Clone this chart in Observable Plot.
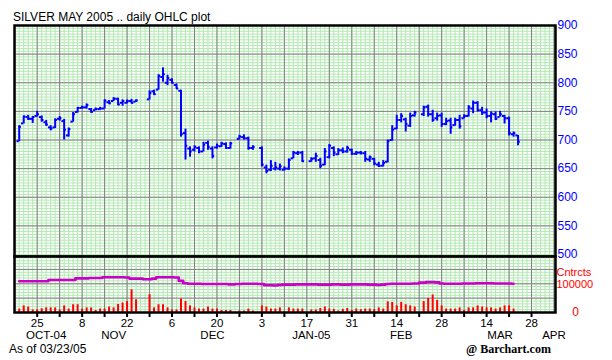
<!DOCTYPE html>
<html><head><meta charset="utf-8">
<script src="https://cdn.jsdelivr.net/npm/d3@7"></script>
<script src="https://cdn.jsdelivr.net/npm/@observablehq/plot@0.6"></script>
<style>
html,body{margin:0;padding:0;background:#fff;overflow:hidden;}
#chart{position:relative;width:612px;height:360px;font-family:"Liberation Sans",Arial,sans-serif;overflow:hidden;}
#chart svg{position:absolute;left:0;overflow:visible;}
.t{position:absolute;white-space:nowrap;font-size:12px;line-height:12px;color:#000;}
</style></head><body><div id="chart"></div>
<script>
// ---- data (trading days, one line per week) ----
const dates = [
 "2004-10-19","2004-10-20","2004-10-21","2004-10-22",
 "2004-10-25","2004-10-26","2004-10-27","2004-10-28","2004-10-29",
 "2004-11-01","2004-11-02","2004-11-03","2004-11-04","2004-11-05",
 "2004-11-08","2004-11-09","2004-11-10","2004-11-11","2004-11-12",
 "2004-11-15","2004-11-16","2004-11-17","2004-11-18","2004-11-19",
 "2004-11-22","2004-11-23","2004-11-24",
 "2004-11-29","2004-11-30","2004-12-01","2004-12-02","2004-12-03",
 "2004-12-06","2004-12-07","2004-12-08","2004-12-09","2004-12-10",
 "2004-12-13","2004-12-14","2004-12-15","2004-12-16","2004-12-17",
 "2004-12-20","2004-12-21","2004-12-22","2004-12-23",
 "2004-12-27","2004-12-28","2004-12-29","2004-12-30",
 "2005-01-03","2005-01-04","2005-01-05","2005-01-06","2005-01-07",
 "2005-01-10","2005-01-11","2005-01-12","2005-01-13","2005-01-14",
 "2005-01-18","2005-01-19","2005-01-20","2005-01-21",
 "2005-01-24","2005-01-25","2005-01-26","2005-01-27","2005-01-28",
 "2005-01-31","2005-02-01","2005-02-02","2005-02-03","2005-02-04",
 "2005-02-07","2005-02-08","2005-02-09","2005-02-10","2005-02-11",
 "2005-02-14","2005-02-15","2005-02-16","2005-02-17","2005-02-18",
 "2005-02-22","2005-02-23","2005-02-24","2005-02-25",
 "2005-02-28","2005-03-01","2005-03-02","2005-03-03","2005-03-04",
 "2005-03-07","2005-03-08","2005-03-09","2005-03-10","2005-03-11",
 "2005-03-14","2005-03-15","2005-03-16","2005-03-17","2005-03-18",
 "2005-03-21","2005-03-22","2005-03-23"
];
const open = [
 698,729,740,737,
 742,740,731,722,722,
 737,733,708,732,749,
 756,757,754,752,754,
 755,766,768,772,765,
 765,768,767,
 771,785,788,810,800,
 805,796,786,712,685,
 683,686,680,695,685,
 687,689,693,686,
 702,705,703,686,
 686,652,648,650,650,
 648,650,668,677,678,
 663,668,665,657,
 670,686,675,682,680,
 683,676,678,677,666,
 667,657,655,662,700,
 720,735,736,725,743,
 745,758,745,738,
 743,728,734,726,735,
 738,742,755,765,752,
 748,742,745,740,742,
 738,710,708
];
const high = [
 725,742,743,741,
 750,742,734,725,737,
 741,736,721,748,757,
 759,763,755,756,757,
 770,769,774,773,770,
 770,771,770,
 786,787,814,826,813,
 807,798,787,719,688,
 690,688,696,698,688,
 693,696,695,696,
 708,709,705,690,
 688,656,664,661,658,
 653,667,680,680,680,
 669,677,668,685,
 692,688,685,686,689,
 684,680,680,680,672,
 668,661,664,700,725,
 743,746,738,747,750,
 759,761,752,747,
 747,738,738,738,743,
 744,760,768,767,757,
 754,749,749,750,743,
 740,714,708
];
const low = [
 697,728,734,729,
 740,731,724,716,720,
 733,700,705,731,747,
 754,754,747,751,752,
 754,762,767,760,759,
 763,763,766,
 770,778,787,801,795,
 798,789,705,665,670,
 679,676,679,682,667,
 684,687,684,684,
 700,700,682,682,
 653,641,645,646,646,
 646,647,667,673,661,
 661,661,650,655,
 667,671,673,676,677,
 673,673,674,661,661,
 655,652,653,660,698,
 718,730,714,722,740,
 741,740,731,733,
 722,725,710,724,719,
 737,740,746,749,743,
 737,730,734,740,728,
 707,705,690
];
const close = [
 723,741,737,740,
 745,735,727,720,735,
 738,718,719,745,756,
 757,761,749,754,755,
 769,764,772,762,768,
 768,765,769,
 782,780,812,815,808,
 800,790,710,690,680,
 688,680,692,688,672,
 690,694,686,694,
 706,703,686,688,
 657,646,655,652,654,
 650,665,678,678,663,
 667,672,655,680,
 690,678,682,680,686,
 676,678,677,667,670,
 659,655,660,698,718,
 735,742,728,742,748,
 757,745,735,742,
 728,733,722,735,724,
 742,757,765,752,748,
 742,746,737,745,738,
 712,712,697
];
const volume = [
 12000,23000,19000,9000,
 9000,13000,16000,16000,16000,
 9000,23000,12000,27000,27000,
 12000,16000,16000,7000,12000,
 12000,19000,16000,28000,33000,
 38000,79000,44000,
 62000,16000,27000,27000,16000,
 9000,9000,47000,38000,23000,
 16000,12000,12000,19000,12000,
 12000,7000,7000,7000,
 5000,5000,12000,5000,
 23000,19000,12000,12000,16000,
 2000,16000,12000,12000,12000,
 9000,9000,14000,19000,
 12000,11000,5000,11000,14000,
 7000,12000,10000,12000,12000,
 10000,16000,12000,37000,35000,
 23000,35000,27000,23000,19000,
 38000,49000,61000,42000,
 23000,12000,12000,12000,16000,
 7000,16000,16000,23000,19000,
 16000,16000,12000,16000,23000,
 23000,12000,null
];
const openInterest = [
 109000,109000,109000,109000,
 109000,109000,109000,113000,113000,
 113000,113000,113000,113000,119000,
 119000,119000,120000,120000,120000,
 123000,123000,123000,123000,123000,
 122000,118000,118000,
 116000,118000,123000,123000,123000,
 123000,122000,110000,102000,100000,
 100000,100000,99000,99000,99000,
 99000,99000,99000,98000,
 99000,100000,100000,100000,
 99000,95000,95000,94000,96000,
 97000,97000,97000,98000,98000,
 98000,98000,97000,97000,
 97000,98000,98000,97000,97000,
 98000,98000,98000,98000,97000,
 97000,96000,97000,99000,100000,
 100000,100000,100000,100000,101000,
 104000,106000,106000,105000,
 101000,100000,100000,100000,100000,
 101000,101000,101000,102000,102000,
 102000,102000,101000,101000,101000,
 101000,100000,null
];
const priceTicks = [500,550,600,650,700,750,800,850,900];
const dayTickDates = ["2004-10-25","2004-11-08","2004-11-22","2004-12-06","2004-12-20","2005-01-03",
  "2005-01-17","2005-01-31","2005-02-14","2005-02-28","2005-03-14","2005-03-28"];
const dayTickLabels = ["25","8","22","6","20","3","17","31","14","28","14","28"];
const monthLabelDates = ["2004-10-27","2004-11-17","2004-12-17","2005-01-18","2005-02-15","2005-03-17","2005-04-04"];
const monthLabels = ["OCT-04","NOV","DEC","JAN-05","FEB","MAR","APR"];

// ---- weekday slot scale helper (weekends removed, holidays left empty) ----
const base = Date.UTC(2004, 9, 25);
function slot(s){
  const [y,m,d] = s.split("-").map(Number);
  const days = Math.round((Date.UTC(y, m-1, d) - base) / 864e5);
  const w = Math.floor(days / 7);
  return w * 5 + (days - 7 * w);
}
const rows = dates.map((s, k) => ({i: slot(s), o: open[k], h: high[k], l: low[k], c: close[k], v: volume[k], oi: openInterest[k]}));
const dayTickSlots = dayTickDates.map(slot);
const dayLabelMap = new Map(dayTickSlots.map((s, k) => [s, dayTickLabels[k]]));
const monthSlots = monthLabelDates.map(slot);

const GREEN = "#b2e8b2", GRAY = "#808080", BLUE = "#0000ff", RED = "#ff0000", PURPLE = "#c800c8";
const xDomain = [-5.05, 115.33];
const style = {fontFamily: "'Liberation Sans', Arial, sans-serif", fontSize: "12px", background: "transparent", overflow: "visible"};
const weekSlots = d3.range(-5, 116, 5);
const daySlots = d3.range(-5, 116);

const price = Plot.plot({
  width: 612, height: 256, marginTop: 25, marginBottom: 0, marginLeft: 14, marginRight: 57,
  style,
  x: {domain: xDomain, axis: null, label: null},
  y: {domain: [496.5, 900], axis: null, label: null},
  marks: [
    Plot.ruleY(d3.range(500, 900, 5), {stroke: GREEN}),
    Plot.ruleX(daySlots, {stroke: GREEN}),
    Plot.ruleY(d3.range(550, 900, 50), {stroke: GRAY}),
    Plot.ruleX(weekSlots, {stroke: GRAY}),
    Plot.ruleX(rows, {x: "i", y1: "l", y2: "h", stroke: BLUE, strokeWidth: 2}),
    Plot.ruleY(rows, {y: "o", x1: d => d.i - 0.5, x2: "i", stroke: BLUE, strokeWidth: 2}),
    Plot.ruleY(rows, {y: "c", x1: "i", x2: d => d.i + 0.5, stroke: BLUE, strokeWidth: 2}),
    Plot.frame({stroke: "black", strokeWidth: 2.5}),
    Plot.axisY({anchor: "right", ticks: priceTicks, tickSize: 0, tickPadding: 2, fill: BLUE, fontSize: 12, tickFormat: d => String(d), label: null})
  ]
});
price.style.top = "0px";

const vol = Plot.plot({
  width: 612, height: 104, marginTop: 0, marginBottom: 48, marginLeft: 14, marginRight: 57,
  style,
  x: {domain: xDomain, axis: null, label: null},
  y: {domain: [0, 195000], axis: null, label: null},
  marks: [
    Plot.ruleY(d3.range(10000, 195000, 10000), {stroke: GREEN}),
    Plot.ruleX(daySlots, {stroke: GREEN}),
    Plot.ruleY([50000, 100000, 150000], {stroke: GRAY}),
    Plot.ruleX(weekSlots, {stroke: GRAY}),
    Plot.ruleX(rows.filter(d => d.v != null), {x: "i", y1: 0, y2: "v", stroke: RED, strokeWidth: 2}),
    Plot.line(rows, {x: "i", y: "oi", stroke: PURPLE, strokeWidth: 2.6, curve: "step"}),
    Plot.frame({stroke: "black", strokeWidth: 2.5}),
    Plot.axisX({ticks: d3.range(0, 111, 5), tickSize: 5, strokeWidth: 2, tickFormat: () => "", label: null}),
    Plot.axisX({ticks: dayTickSlots, tickSize: 0, tickPadding: 6, tickFormat: d => dayLabelMap.get(d), fontSize: 11.5, label: null}),
    Plot.text(monthLabels, {x: monthSlots, frameAnchor: "bottom", dy: 23, lineAnchor: "middle", fontSize: 11.5}),
    Plot.text(["Cntrcts"], {y: [100000], frameAnchor: "right", textAnchor: "start", dx: 1, dy: -11.5, fill: RED, fontSize: 11}),
    Plot.text(["100000"], {y: [100000], frameAnchor: "right", textAnchor: "start", dx: 1, dy: 0.5, fill: RED, fontSize: 11}),
    Plot.text(["0"], {y: [0], frameAnchor: "right", textAnchor: "middle", dx: 20, fill: RED, fontSize: 12})
  ]
});
vol.style.top = "256px";

const chart = document.getElementById("chart");
chart.appendChild(price);
chart.appendChild(vol);
function addText(txt, left, top, extra){
  const d = document.createElement("div");
  d.className = "t"; d.textContent = txt;
  d.style.left = left + "px"; d.style.top = top + "px";
  if (extra) Object.assign(d.style, extra);
  chart.appendChild(d);
}
addText("SILVER MAY 2005 .. daily OHLC plot", 13, 11);
addText("As of 03/23/05", 9, 343);
addText("@ Barchart.com", 466, 343, {fontFamily: "'Liberation Serif', 'Times New Roman', serif", fontWeight: "bold"});
</script></body></html>
